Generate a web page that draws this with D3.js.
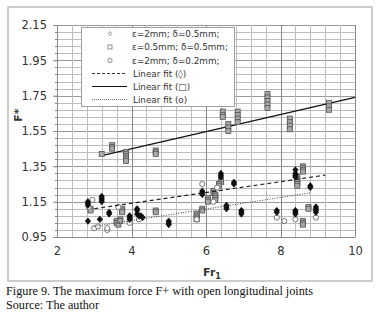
<!DOCTYPE html>
<html>
<head>
<meta charset="utf-8">
<script src="https://cdn.jsdelivr.net/npm/d3@7"></script>
<style>
  body { margin: 0; background: #fff; }
  svg { display: block; }
</style>
</head>
<body>
<svg id="chart" width="378" height="315"></svg>
<script>
// series: [Fr1, F*]
var diamondPts = [
  [2.83,1.15],[2.83,1.14],[2.83,1.13],[2.83,1.04],
  [3.15,1.05],
  [3.2,1.18],[3.2,1.17],[3.2,1.16],[3.2,1.15],
  [3.4,1.09],[3.4,1.08],
  [3.95,1.07],[3.95,1.06],[3.95,1.05],
  [4.15,1.11],[4.15,1.10],[4.15,1.08],[4.2,1.07],[4.25,1.07],[4.3,1.06],
  [5.0,1.04],[5.0,1.03],[5.0,1.02],
  [5.9,1.21],[5.9,1.20],[5.9,1.19],
  [6.4,1.31],[6.4,1.30],[6.4,1.29],
  [6.55,1.13],[6.55,1.12],[6.55,1.11],
  [6.75,1.26],[6.75,1.25],
  [6.95,1.10],[6.95,1.09],[6.95,1.08],
  [7.9,1.10],[7.9,1.09],
  [8.4,1.33],[8.4,1.31],[8.4,1.30],[8.4,1.29],
  [8.4,1.10],[8.4,1.09],[8.4,1.08],
  [8.8,1.24],[8.8,1.23],
  [8.95,1.12],[8.95,1.11],[8.95,1.10],[8.95,1.09]
];
var squarePts = [
  [2.9,1.11],[2.9,1.10],
  [3.6,1.04],[3.6,1.03],[3.65,1.02],[3.7,1.05],[3.7,1.04],
  [3.75,1.11],[3.75,1.10],[3.75,1.09],
  [4.65,1.10],[4.65,1.09],
  [5.75,1.08],[5.75,1.07],[5.75,1.06],[5.75,1.05],
  [5.9,1.11],[5.9,1.10],
  [6.05,1.17],[6.05,1.16],[6.05,1.15],
  [6.2,1.21],[6.2,1.20],[6.25,1.19],[6.25,1.18],[6.25,1.17],[6.25,1.16],
  [6.4,1.27],[6.4,1.26],[6.35,1.25],[6.35,1.24],
  [8.45,1.29],[8.45,1.28],[8.45,1.27],[8.45,1.26],[8.45,1.25],[8.45,1.24],
  [8.6,1.35],[8.6,1.34],[8.6,1.33],[8.6,1.32],
  [8.6,1.04],[8.6,1.03],[8.6,1.02],
  [8.75,1.12],[8.75,1.11],
  [3.2,1.42],[3.48,1.47],[3.48,1.46],[3.48,1.45],
  [3.85,1.43],[3.85,1.42],[3.85,1.41],[3.85,1.40],[3.85,1.39],[3.85,1.38],
  [4.65,1.44],[4.65,1.43],[4.65,1.42],
  [6.45,1.66],[6.45,1.64],[6.45,1.63],
  [6.6,1.59],[6.6,1.57],[6.6,1.55],
  [6.85,1.66],[6.85,1.64],[6.85,1.62],[6.85,1.60],
  [7.65,1.76],[7.65,1.74],[7.65,1.72],[7.65,1.70],[7.65,1.68],
  [8.25,1.62],[8.25,1.60],[8.25,1.58],[8.25,1.56],
  [9.3,1.71],[9.3,1.69],[9.3,1.67]
];
var circlePts = [
  [2.85,1.12],[2.95,1.16],[3.0,1.00],[3.1,1.01],[3.35,0.99],[3.35,1.00],
  [3.65,1.12],[3.95,1.03],[4.2,1.05],[5.75,1.05],[5.9,1.25],[6.2,1.15],
  [6.3,1.23],[7.9,1.06],[8.1,1.04],[8.4,1.05],[8.95,1.06]
];
// linear fits, end points
var fitDiamond = [[3.0,1.11],[9.2,1.30]];
var fitSquare = [[3.2,1.41],[10,1.74]];
var fitCircle = [[3.0,1.01],[8.8,1.20]];

var xTicks = [2, 4, 6, 8, 10];
var yTicks = [0.95, 1.15, 1.35, 1.55, 1.75, 1.95, 2.15];
var legendLabels = ["\u03b5=2mm; \u03b4=0.5mm;", "\u03b5=0.5mm; \u03b4=0.5mm;", "\u03b5=2mm; \u03b4=0.2mm;",
  "Linear fit (\u25ca)", "Linear fit (\u25a1)", "Linear fit (o)"];

var svg = d3.select("#chart");
var pLeft = 57, pRight = 355, pTop = 25, pBottom = 237;

var x = d3.scaleLinear().domain([2, 10]).range([pLeft, pRight]);
var y = d3.scaleLinear().domain([0.95, 2.15]).range([pBottom, pTop]);

// chart area frame
svg.append("rect").attr("x", 8).attr("y", 7).attr("width", 364).attr("height", 274)
  .attr("fill", "#fff").attr("stroke", "#bdbdbd").attr("stroke-width", 1.5);

// grid
var g = svg.append("g");
var yMinor = d3.range(0, 31).map(function(i) { return 0.95 + i * 0.04; });
var xMinor = d3.range(0, 21).map(function(i) { return 2 + i * 0.4; });
g.selectAll(".hm").data(yMinor).enter().append("line")
  .attr("x1", pLeft).attr("x2", pRight)
  .attr("y1", function(d) { return Math.round(y(d)) + 0.5; })
  .attr("y2", function(d) { return Math.round(y(d)) + 0.5; })
  .attr("stroke", function(d, i) { return i % 5 == 0 ? "#999" : "#bdbdbd"; });
g.selectAll(".vm").data(xMinor).enter().append("line")
  .attr("y1", pTop).attr("y2", pBottom)
  .attr("x1", function(d) { return Math.round(x(d)) + 0.5; })
  .attr("x2", function(d) { return Math.round(x(d)) + 0.5; })
  .attr("stroke", function(d, i) { return i % 5 == 0 ? "#888" : "#bdbdbd"; });

// axes
var yAxis = d3.axisLeft(y).tickValues(yTicks).tickFormat(d3.format(".2f")).tickSize(4).tickPadding(6);
var ya = svg.append("g").attr("transform", "translate(" + pLeft + ",0)").call(yAxis);
var xAxis = d3.axisBottom(x).tickValues(xTicks).tickFormat(d3.format("d")).tickSize(0).tickPadding(10);
var xa = svg.append("g").attr("transform", "translate(0," + pBottom + ")").call(xAxis);
[ya, xa].forEach(function(a) {
  a.select(".domain").attr("stroke", "#8a8a8a");
  a.selectAll(".tick line").attr("stroke", "#8a8a8a");
  a.selectAll("text").attr("font-family", "DejaVu Sans").attr("font-size", 11.5).attr("fill", "#333");
});
// minor ticks on y
svg.selectAll(".ymt").data(yMinor).enter().append("line")
  .attr("x1", pLeft - 2).attr("x2", pLeft)
  .attr("y1", function(d) { return Math.round(y(d)) + 0.5; })
  .attr("y2", function(d) { return Math.round(y(d)) + 0.5; })
  .attr("stroke", "#8a8a8a");

svg.append("text").attr("x", 212).attr("y", 276).attr("text-anchor", "middle")
  .attr("font-family", "DejaVu Sans").attr("font-weight", "bold").attr("font-size", 11).attr("fill", "#333")
  .text("Fr").append("tspan").attr("font-size", 8).attr("dy", 3).text("1");
svg.append("text").attr("transform", "translate(22,115) rotate(-90)").attr("text-anchor", "middle")
  .attr("font-family", "DejaVu Sans").attr("font-weight", "bold").attr("font-size", 11).attr("fill", "#333")
  .text("F*");

// fit lines
var line = d3.line().x(function(d) { return x(d[0]); }).y(function(d) { return y(d[1]); });
svg.append("path").datum(fitSquare).attr("d", line).attr("fill", "none").attr("stroke", "#111").attr("stroke-width", 1.3);

// markers
function diamond(sel, s) {
  sel.attr("d", "M0," + (-s) + "L" + (s * 0.85) + ",0L0," + s + "L" + (-s * 0.85) + ",0Z");
}
svg.selectAll(".sq").data(squarePts).enter().append("rect")
  .attr("x", function(d) { return x(d[0]) - 2.5; })
  .attr("y", function(d) { return y(d[1]) - 2.5; })
  .attr("width", 5).attr("height", 5)
  .attr("fill", "#a8a8a8").attr("stroke", "#555").attr("stroke-width", 0.8);
svg.selectAll(".ci").data(circlePts).enter().append("circle")
  .attr("cx", function(d) { return x(d[0]); })
  .attr("cy", function(d) { return y(d[1]); })
  .attr("r", 2.6)
  .attr("fill", "#fff").attr("stroke", "#666").attr("stroke-width", 0.9);
svg.selectAll(".di").data(diamondPts).enter().append("path")
  .attr("transform", function(d) { return "translate(" + x(d[0]) + "," + y(d[1]) + ")"; })
  .call(diamond, 3.2)
  .attr("fill", "#111").attr("stroke", "#000").attr("stroke-width", 0.6);

svg.append("path").datum(fitDiamond).attr("d", line).attr("fill", "none")
  .attr("stroke", "#222").attr("stroke-width", 1.2).attr("stroke-dasharray", "4,3");
svg.append("path").datum(fitCircle).attr("d", line).attr("fill", "none")
  .attr("stroke", "#444").attr("stroke-width", 1).attr("stroke-dasharray", "1,1.5");

// legend
var lg = svg.append("g");
lg.append("rect").attr("x", 81.5).attr("y", 27.5).attr("width", 153).attr("height", 79)
  .attr("fill", "#fff").attr("stroke", "#a0a0a0");
var rowsY = [33.5, 47, 60.5, 73.5, 86.5, 99.5];
lg.selectAll("text").data(legendLabels).enter().append("text")
  .attr("x", function(d, i) { return i < 3 ? 132 : 133; })
  .attr("y", function(d, i) { return rowsY[i] + 3; })
  .attr("font-family", "DejaVu Sans").attr("font-size", 8.8).attr("fill", "#333")
  .text(function(d) { return d; });
lg.append("path").attr("transform", "translate(110," + rowsY[0] + ")").call(diamond, 2)
  .attr("fill", "none").attr("stroke", "#777").attr("stroke-width", 0.8);
lg.append("rect").attr("x", 108).attr("y", rowsY[1] - 2).attr("width", 4).attr("height", 4)
  .attr("fill", "none").attr("stroke", "#777").attr("stroke-width", 0.8);
lg.append("circle").attr("cx", 110).attr("cy", rowsY[2]).attr("r", 2.2)
  .attr("fill", "none").attr("stroke", "#777").attr("stroke-width", 0.8);
lg.append("line").attr("x1", 92).attr("x2", 127).attr("y1", rowsY[3]).attr("y2", rowsY[3])
  .attr("stroke", "#333").attr("stroke-dasharray", "3,2");
lg.append("line").attr("x1", 92).attr("x2", 127).attr("y1", rowsY[4]).attr("y2", rowsY[4])
  .attr("stroke", "#111").attr("stroke-width", 1.2);
lg.append("line").attr("x1", 92).attr("x2", 127).attr("y1", rowsY[5]).attr("y2", rowsY[5])
  .attr("stroke", "#777").attr("stroke-dasharray", "1,1");

// caption
svg.append("text").attr("x", 6).attr("y", 295).attr("font-family", "Liberation Serif")
  .attr("font-size", 12.5).attr("fill", "#111").attr("textLength", 307).attr("lengthAdjust", "spacingAndGlyphs")
  .text("Figure 9. The maximum force F+ with open longitudinal joints");
svg.append("text").attr("x", 6).attr("y", 309).attr("font-family", "Liberation Serif")
  .attr("font-size", 12.5).attr("fill", "#111").attr("textLength", 93).attr("lengthAdjust", "spacingAndGlyphs")
  .text("Source: The author");
</script>
</body>
</html>
